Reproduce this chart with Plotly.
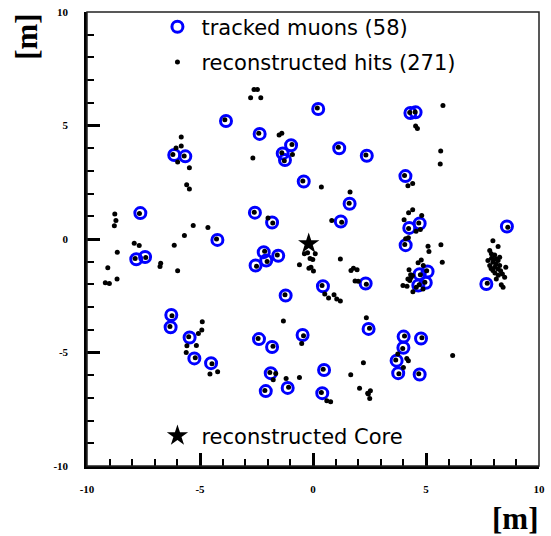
import plotly.graph_objects as go

# tracked muons (58)
muon_x = [-3.85, -6.14, -5.65, -7.64, -4.23, -7.82, -7.43,
          0.23, -2.36, -0.97, -1.34, -1.24, 1.16, 2.38, -0.41, 1.62, -2.57, -1.81, 1.23,
          -2.18, -1.54, -2.07, -2.54,
          4.31, 4.54, 4.09, 4.72, 4.26, 4.10, 8.58,
          5.07, 4.72, 4.99, 4.66, 0.44, 2.33, 7.67,
          4.01, 4.78, 4.00, 3.70, 3.77, 4.72,
          -1.21, 2.46, -0.46, -2.39, -1.81, 0.49, -1.87, -1.12, -2.09, 0.41,
          -6.27, -6.30, -5.46, -5.25, -4.51]
muon_y = [5.20, 3.70, 3.64, 1.14, -0.04, -0.89, -0.79,
          5.73, 4.63, 4.13, 3.77, 3.48, 4.00, 3.67, 2.53, 1.55, 1.16, 0.73, 0.77,
          -0.58, -0.74, -0.95, -1.17,
          5.55, 5.58, 2.77, 0.68, 0.49, -0.27, 0.55,
          -1.43, -1.55, -1.93, -2.05, -2.08, -1.96, -1.98,
          -4.30, -4.38, -4.79, -5.36, -5.91, -5.97,
          -2.49, -3.96, -4.23, -4.41, -4.76, -5.77, -5.91, -6.56, -6.70, -6.79,
          -3.35, -3.89, -4.34, -5.26, -5.47]

# reconstructed hits
hit_x = [
    # hits under the tracked muons
    -3.90, -6.20, -5.70, -7.68, -4.27, -7.87, -7.40,
    0.19, -2.40, -0.93, -1.38, -1.27, 1.12, 2.34, -0.45, 1.60, -2.60, -1.78, 1.27,
    -2.14, -1.58, -2.03, -2.50,
    4.28, 4.52, 4.05, 4.68, 4.23, 4.06, 8.62,
    5.03, 4.75, 4.95, 4.70, 0.40, 2.36, 7.71,
    4.05, 4.82, 3.97, 3.66, 3.80, 4.68,
    -1.24, 2.50, -0.42, -2.43, -1.77, 0.45, -1.91, -1.08, -2.13, 0.37,
    -6.24, -6.33, -5.50, -5.21, -4.47,
    # other hits
    -2.76, -2.61, -2.46, -2.31,
    5.75, 4.54, 4.62, 5.65, 5.63, 4.20, 4.41,
    0.37, 1.64, 0.83,
    -1.50, -1.38, -0.91, -2.66, -1.99,
    4.23, 4.41, 4.81, 4.03, 4.56, 4.75, 4.10, 4.22,
    5.09, 5.13, 5.66, 5.72,
    4.79, 4.65, 4.88, 4.25, 4.32, 4.40, 4.20, 4.28, 3.98, 4.16, 4.42, 4.57, 4.87, 4.34,
    7.96, 8.19, 7.82, 7.89, 8.04, 8.11, 7.74, 7.96, 8.19, 8.26, 7.82, 8.04, 8.26, 8.53,
    7.96, 8.19, 8.11, 8.38, 8.48, 8.33, 8.41, 7.90, 8.00, 8.10, 7.88, 8.30, 8.05, 8.20,
    -5.83, -6.06, -5.83, -5.99, -5.47, -5.59, -5.47,
    -8.77, -8.72, -8.79, -5.30, -4.65, -5.69,
    -7.91, -7.69, -8.66, -6.14, -6.74, -6.77, -9.08, -5.99,
    -9.19, -9.01, -8.67,
    -4.90, -4.92, -5.07, -5.58, -5.16, -5.61, -4.56, -4.22,
    -0.38, -0.24, 0.10, -0.13, -0.01, -0.60, 1.21, -0.09, -0.18, 0.02, 1.68, 1.79, 1.95, 1.86, 2.00,
    0.52, 0.69, 0.93, 1.05, 1.21,
    -1.31, 2.36, -0.50, -1.65, -1.76, -1.19, -0.60, 2.23, 1.67, 2.06, 2.45, 2.54, 2.51, 2.42, 0.61, 0.78,
    6.18, 3.75, 4.15, 4.22, 4.00,
]
hit_y = [
    5.25, 3.72, 3.66, 1.12, 0.00, -0.86, -0.82,
    5.77, 4.66, 4.16, 3.80, 3.45, 4.04, 3.70, 2.55, 1.58, 1.18, 0.70, 0.74,
    -0.54, -0.71, -0.99, -1.20,
    5.57, 5.60, 2.80, 0.71, 0.46, -0.24, 0.52,
    -1.40, -1.58, -1.90, -2.02, -2.05, -1.99, -1.95,
    -4.27, -4.35, -4.82, -5.33, -5.94, -5.94,
    -2.46, -3.93, -4.26, -4.38, -4.73, -5.74, -5.88, -6.53, -6.67, -6.76,
    -3.38, -3.86, -4.31, -5.23, -5.50,
    6.22, 6.59, 6.59, 6.22,
    5.88, 4.98, 4.87, 3.88, 3.30, 2.35, 2.44,
    2.29, 2.07, 0.82,
    4.58, 4.66, 3.72, 3.57, 0.92,
    1.16, 1.29, 1.04, 0.85, 0.34, 0.42, 0.01, 0.05,
    -0.32, -0.55, -0.25, -1.02,
    -0.92, -1.05, -1.17, -1.35, -1.57, -1.61, -1.76, -1.83, -2.05, -2.08, -2.32, -2.13, -2.20, -1.70,
    -0.08, -0.33, -0.51, -0.65, -0.70, -0.88, -0.95, -1.02, -0.95, -0.80, -1.17, -1.24, -1.17, -1.24,
    -1.39, -1.32, -1.76, -1.54, -1.69, -2.02, -2.13, -0.85, -0.90, -1.10, -1.30, -1.40, -1.50, -1.60,
    4.49, 4.01, 4.10, 3.39, 3.14, 2.39, 2.20,
    1.10, 0.82, 0.58, 0.60, 0.51, 0.15,
    -0.19, -0.29, -0.58, -0.27, -1.07, -1.21, -1.27, -1.40,
    -1.93, -1.96, -1.76,
    -3.64, -4.01, -4.16, -4.70, -4.69, -5.00, -5.95, -5.85,
    -0.65, -0.61, -0.65, -0.86, -0.90, -1.13, -0.88, -1.24, -1.29, -1.41, -1.39, -1.29, -1.36, -1.85, -1.86,
    -2.42, -2.60, -2.46, -2.64, -2.73,
    -3.61, -3.47, -4.60, -5.92, -6.20, -6.15, -6.10, -5.45, -5.98, -6.57, -6.83, -6.69, -7.03, -6.79, -7.13, -7.17,
    -5.13, -5.07, -5.26, -5.36, -5.66,
]

# reconstructed core
core_x = [-0.19]
core_y = [-0.21]

tick_vals = [-10, -5, 0, 5, 10]
tick_text = ["-10", "-5", "0", "5", "10"]

fig = go.Figure()
fig.add_trace(go.Scatter(
    x=muon_x, y=muon_y, mode="markers", name="tracked muons (58)",
    legend="legend", legendgroup="a",
    marker=dict(symbol="circle-open", size=11, color="#0000ff",
                line=dict(width=3, color="#0000ff"))))
fig.add_trace(go.Scatter(
    x=hit_x, y=hit_y, mode="markers", name="reconstructed hits (271)",
    legend="legend", legendgroup="b",
    marker=dict(symbol="circle", size=5, color="black", line=dict(width=0))))
fig.add_trace(go.Scatter(
    x=core_x, y=core_y, mode="markers", name="reconstructed Core",
    legend="legend2",
    marker=dict(symbol="star", size=16, color="black", line=dict(width=0))))

tickfont = dict(family="Liberation Serif", size=11, color="black", weight="bold")
axis_common = dict(
    range=[-10, 10], tickmode="array", tickvals=tick_vals, ticktext=tick_text,
    ticks="inside", ticklen=13, tickwidth=3, tickcolor="black",
    showline=True, linewidth=2.5, linecolor="black", mirror=False,
    showgrid=False, zeroline=False, tickfont=tickfont, automargin=False,
    minor=dict(dtick=1, tick0=0, ticks="inside", ticklen=7, tickwidth=2,
               tickcolor="black", showgrid=False),
)

legend_font = dict(family="DejaVu Sans", size=21, color="black")
unit_font = dict(family="Liberation Serif", size=31, color="black", weight="bold")

fig.update_layout(
    width=551, height=536,
    margin=dict(l=87, r=12, t=12, b=70, autoexpand=False),
    paper_bgcolor="white", plot_bgcolor="white",
    hovermode=False,
    xaxis=dict(**axis_common, ticklabelstandoff=11),
    yaxis=dict(**axis_common, ticklabelstandoff=14),
    showlegend=True,
    legend=dict(x=0.147, y=1.012, xanchor="left", yanchor="top",
                bgcolor="rgba(0,0,0,0)", borderwidth=0, font=legend_font,
                itemwidth=38, traceorder="grouped", tracegroupgap=5),
    legend2=dict(x=0.147, y=0.111, xanchor="left", yanchor="top",
                 bgcolor="rgba(0,0,0,0)", borderwidth=0, font=legend_font,
                 itemwidth=38),
    shapes=[dict(type="rect", xref="paper", yref="paper", x0=0, x1=1, y0=0, y1=1,
                 line=dict(color="#222222", width=1.5), layer="above")],
    annotations=[
        dict(text="[m]", xref="paper", yref="paper", x=-0.133, y=0.945,
             xanchor="center", yanchor="middle",
             showarrow=False, textangle=-90, font=unit_font),
        dict(text="[m]", xref="paper", yref="paper", x=0.947, y=-0.116,
             xanchor="center", yanchor="middle",
             showarrow=False, font=unit_font),
    ],
)

# remove the browser's default 8px body margin so the 551x536 figure fills the window
fig.write_html("out.html",
               config={"displayModeBar": False},
               post_script="document.body.style.margin='0px';document.body.style.overflow='hidden';")
